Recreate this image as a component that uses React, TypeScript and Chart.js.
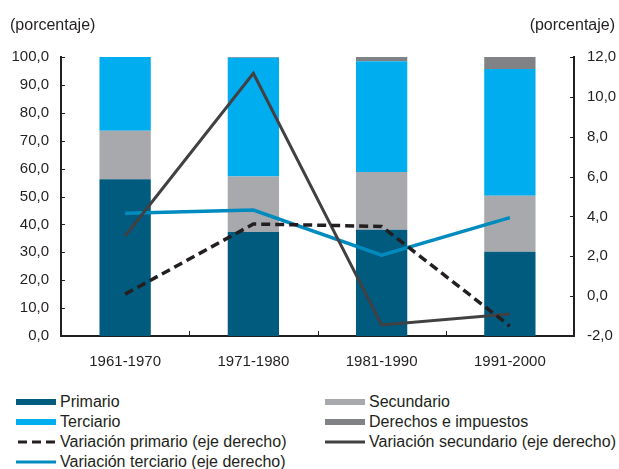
import React, { useEffect, useRef } from "react";
import { Chart, registerables } from "chart.js";

Chart.register(...registerables);

const categories = ["1961-1970", "1971-1980", "1981-1990", "1991-2000"];
const primario = [56.2, 37.3, 38.1, 30.2];
const secundario = [17.4, 19.9, 20.7, 20.1];
const terciario = [26.4, 42.5, 39.7, 45.4];
const derechos = [0, 0.3, 1.5, 4.3];
const varPrimario = [0.1, 3.62, 3.5, -1.5];
const varSecundario = [3.02, 11.18, -1.45, -0.9];
const varTerciario = [4.16, 4.32, 2.06, 3.94];

const FONT = "'Liberation Sans', Arial, Helvetica, sans-serif";
const TEXT = "#231f20";
const C_PRIM = "#005b7f";
const C_SEC = "#a7a9ac";
const C_TER = "#00adee";
const C_DER = "#808285";
const C_LPRIM = "#231f20";
const C_LSEC = "#414042";
const C_LTER = "#008bbf";

const fmt = (v: number) => v.toFixed(1).replace(".", ",");

const inwardTicks = {
  id: "inwardTicks",
  afterDraw(chart: any) {
    const ctx = chart.ctx;
    const { y, y1, x } = chart.scales;
    ctx.save();
    ctx.strokeStyle = TEXT;
    ctx.lineWidth = 1;
    ctx.beginPath();
    y.ticks.forEach((t: any) => {
      const p = Math.round(y.getPixelForValue(t.value)) + 0.5;
      ctx.moveTo(y.right, p);
      ctx.lineTo(y.right + 4, p);
    });
    y1.ticks.forEach((t: any) => {
      const p = Math.round(y1.getPixelForValue(t.value)) + 0.5;
      ctx.moveTo(y1.left, p);
      ctx.lineTo(y1.left - 4, p);
    });
    for (let i = 0; i < categories.length - 1; i++) {
      const p = Math.round((x.getPixelForValue(i) + x.getPixelForValue(i + 1)) / 2) + 0.5;
      ctx.moveTo(p, x.top);
      ctx.lineTo(p, x.top - 5);
    }
    ctx.stroke();
    ctx.restore();
  },
};

function Swatch({ kind, color }: { kind: string; color: string }) {
  if (kind === "bar") {
    return <div style={{ width: 40, height: 6, background: color, flex: "none" }} />;
  }
  return (
    <svg width={40} height={6} style={{ flex: "none" }}>
      <line
        x1={kind === "dash" ? 2 : 0}
        y1={3}
        x2={40}
        y2={3}
        stroke={color}
        strokeWidth={3}
        strokeDasharray={kind === "dash" ? "9 5" : undefined}
      />
    </svg>
  );
}

const legendItems = [
  { label: "Primario", kind: "bar", color: C_PRIM, col: 0, row: 0 },
  { label: "Secundario", kind: "bar", color: C_SEC, col: 1, row: 0 },
  { label: "Terciario", kind: "bar", color: C_TER, col: 0, row: 1 },
  { label: "Derechos e impuestos", kind: "bar", color: C_DER, col: 1, row: 1 },
  { label: "Variación primario (eje derecho)", kind: "dash", color: C_LPRIM, col: 0, row: 2 },
  { label: "Variación secundario (eje derecho)", kind: "line", color: C_LSEC, col: 1, row: 2 },
  { label: "Variación terciario (eje derecho)", kind: "line", color: C_LTER, col: 0, row: 3 },
];

export default function App() {
  const ref = useRef<HTMLCanvasElement>(null);

  useEffect(() => {
    if (!ref.current) return;
    const tickFont = { family: FONT, size: 15 };
    const chart = new Chart(ref.current, {
      type: "bar",
      data: {
        labels: categories,
        datasets: [
          { type: "line", label: "Variación primario (eje derecho)", data: varPrimario, yAxisID: "y1", borderColor: C_LPRIM, borderWidth: 3.5, borderDash: [9, 5], pointRadius: 0, tension: 0, fill: false, order: 0 },
          { type: "line", label: "Variación secundario (eje derecho)", data: varSecundario, yAxisID: "y1", borderColor: C_LSEC, borderWidth: 3, pointRadius: 0, tension: 0, fill: false, order: 0 },
          { type: "line", label: "Variación terciario (eje derecho)", data: varTerciario, yAxisID: "y1", borderColor: C_LTER, borderWidth: 3.5, pointRadius: 0, tension: 0, fill: false, order: 0 },
          { type: "bar", label: "Primario", data: primario, backgroundColor: C_PRIM, yAxisID: "y", stack: "s", barPercentage: 0.4, categoryPercentage: 1, order: 1 },
          { type: "bar", label: "Secundario", data: secundario, backgroundColor: C_SEC, yAxisID: "y", stack: "s", barPercentage: 0.4, categoryPercentage: 1, order: 1 },
          { type: "bar", label: "Terciario", data: terciario, backgroundColor: C_TER, yAxisID: "y", stack: "s", barPercentage: 0.4, categoryPercentage: 1, order: 1 },
          { type: "bar", label: "Derechos e impuestos", data: derechos, backgroundColor: C_DER, yAxisID: "y", stack: "s", barPercentage: 0.4, categoryPercentage: 1, order: 1 },
        ] as any,
      },
      options: {
        responsive: false,
        animation: false,
        devicePixelRatio: 1,
        layout: { padding: { top: 57, left: 0, right: 0, bottom: 0 } },
        plugins: { legend: { display: false }, tooltip: { enabled: false } },
        scales: {
          x: {
            stacked: true,
            grid: { display: false, drawTicks: false },
            border: { display: true, color: TEXT, width: 2 },
            ticks: { font: tickFont, color: TEXT, padding: 17 },
            afterFit: (s: any) => { s.height = 44; },
          },
          y: {
            position: "left",
            stacked: true,
            min: 0,
            max: 100,
            grid: { display: false, drawTicks: false },
            border: { display: true, color: TEXT, width: 2 },
            ticks: { stepSize: 10, font: tickFont, color: TEXT, padding: 12, callback: (v: any) => fmt(Number(v)) },
            afterFit: (s: any) => { s.width = 61; },
          },
          y1: {
            position: "right",
            min: -2,
            max: 12,
            grid: { display: false, drawTicks: false },
            border: { display: true, color: TEXT, width: 2 },
            ticks: { stepSize: 2, font: tickFont, color: TEXT, padding: 13, callback: (v: any) => fmt(Number(v)) },
            afterFit: (s: any) => { s.width = 45; },
          },
        },
      } as any,
      plugins: [inwardTicks],
    });
    return () => chart.destroy();
  }, []);

  return (
    <div style={{ position: "fixed", left: 0, top: 0, width: 619, height: 469, background: "#fff", fontFamily: FONT, color: TEXT, overflow: "hidden" }}>
      <canvas ref={ref} width={619} height={380} style={{ position: "absolute", left: 0, top: 0, width: 619, height: 380 }} />
      <div style={{ position: "absolute", left: 10, top: 15, fontSize: 16, lineHeight: "20px", whiteSpace: "nowrap" }}>(porcentaje)</div>
      <div style={{ position: "absolute", right: 4, top: 15, fontSize: 16, lineHeight: "20px", whiteSpace: "nowrap" }}>(porcentaje)</div>
      {legendItems.map((it) => (
        <div
          key={it.label}
          style={{
            position: "absolute",
            left: it.col === 0 ? 16 : 325,
            top: 392 + it.row * 20,
            height: 20,
            display: "flex",
            alignItems: "center",
            gap: 4,
            fontSize: 16,
            whiteSpace: "nowrap",
          }}
        >
          <Swatch kind={it.kind} color={it.color} />
          <span>{it.label}</span>
        </div>
      ))}
    </div>
  );
}
